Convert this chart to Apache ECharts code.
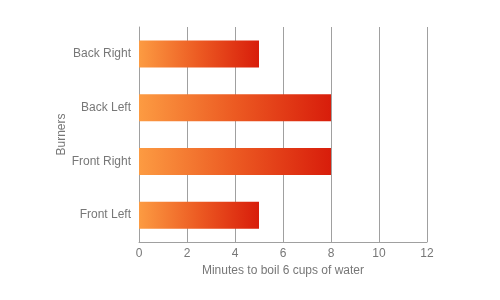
<!DOCTYPE html>
<html>
<head>
<meta charset="utf-8">
<script src="https://cdn.jsdelivr.net/npm/echarts@6/dist/echarts.min.js"></script>
<style>
  html, body { margin: 0; padding: 0; background: #fff; }
  #chart { width: 500px; height: 300px; }
</style>
</head>
<body>
<div id="chart"></div>
<script>
// burners, bottom to top
var burners = ["Front Left", "Front Right", "Back Left", "Back Right"];
var minutes = [5, 8, 8, 5];
var xTicks = [0, 2, 4, 6, 8, 10, 12];

var chart = echarts.init(document.getElementById("chart"));
var textColor = "#777";
var lineColor = "#a0a0a0";

chart.setOption({
  animation: false,
  grid: {
    left: 139,
    right: 73,
    top: 27,
    bottom: 58,
  },
  xAxis: {
    type: "value",
    min: xTicks[0],
    max: xTicks[xTicks.length - 1],
    interval: 2,
    name: "Minutes to boil 6 cups of water",
    nameLocation: "middle",
    nameGap: 22,
    nameTextStyle: {
      color: textColor,
      fontFamily: "Liberation Sans",
      fontSize: 12,
    },
    axisLine: { show: true, lineStyle: { color: lineColor } },
    axisTick: { show: false },
    axisLabel: {
      margin: 6,
      color: textColor,
      fontFamily: "Liberation Sans",
      fontSize: 12,
    },
    splitLine: { show: true, lineStyle: { color: lineColor, width: 1 } },
  },
  yAxis: {
    type: "category",
    data: burners,
    name: "Burners",
    nameLocation: "middle",
    nameGap: 71,
    nameRotate: 90,
    nameMoveOverlap: false,
    nameTextStyle: {
      color: textColor,
      fontFamily: "Liberation Sans",
      fontSize: 12,
    },
    axisLine: { show: true, lineStyle: { color: lineColor } },
    axisTick: { show: false },
    axisLabel: {
      margin: 8,
      color: textColor,
      fontFamily: "Liberation Sans",
      fontSize: 12,
    },
    splitLine: { show: false },
  },
  series: [
    {
      type: "bar",
      data: minutes,
      barWidth: 27,
      itemStyle: {
        color: new echarts.graphic.LinearGradient(0, 0, 1, 0, [
          { offset: 0, color: "#fc9b42" },
          { offset: 0.5, color: "#ec5a22" },
          { offset: 1, color: "#d81d0b" },
        ]),
      },
    },
  ],
});
</script>
</body>
</html>
